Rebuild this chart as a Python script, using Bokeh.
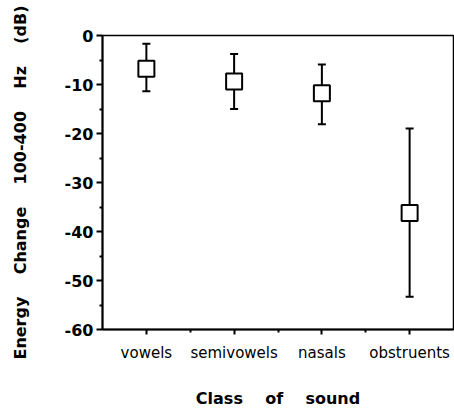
from bokeh.plotting import figure
from bokeh.models import ColumnDataSource, Whisker, TeeHead, FixedTicker
from bokeh.embed import file_html
from bokeh.resources import INLINE

categories = ["vowels", "semivowels", "nasals", "obstruents"]
means = [-6.8, -9.4, -11.8, -36.2]
upper = [-1.7, -3.8, -5.9, -19.0]
lower = [-11.4, -15.0, -18.1, -53.3]
y_ticks = [0, -10, -20, -30, -40, -50, -60]

xs = list(range(1, len(categories) + 1))
src = ColumnDataSource(dict(x=xs, m=means, up=upper, lo=lower))

FONT = "DejaVu Sans"

p = figure(width=454, height=410, output_backend="svg", toolbar_location=None,
           x_range=(0.5, 4.5), y_range=(-60, 0),
           min_border_left=102, min_border_top=35, min_border_bottom=81,
           min_border_right=1)
p.background_fill_color = "white"
p.border_fill_color = "white"
p.xgrid.visible = False
p.ygrid.visible = False
p.outline_line_color = "black"
p.outline_line_width = 1.5

w = Whisker(source=src, base="x", upper="up", lower="lo", line_color="black",
            line_width=2,
            upper_head=TeeHead(size=8, line_width=2, line_color="black"),
            lower_head=TeeHead(size=8, line_width=2, line_color="black"))
p.add_layout(w)
p.scatter("x", "m", source=src, marker="square", size=16, fill_color="white",
          line_color="black", line_width=2)

nb = "\u00a0" * 4
# x axis
p.xaxis.ticker = FixedTicker(ticks=xs, minor_ticks=[1.5, 2.5, 3.5])
p.xaxis.major_label_overrides = {x: c for x, c in zip(xs, categories)}
p.xaxis.axis_label = "Class" + nb + "of" + nb + "sound"
p.xaxis.axis_label_text_font = FONT
p.xaxis.axis_label_text_font_style = "bold"
p.xaxis.axis_label_text_font_size = "16px"
p.xaxis.axis_label_text_color = "black"
p.xaxis.axis_label_standoff = 24
p.xaxis.major_label_text_font = FONT
p.xaxis.major_label_text_font_size = "15px"
p.xaxis.major_label_text_color = "black"
p.xaxis.major_label_standoff = 9
p.xaxis.axis_line_width = 2
p.xaxis.major_tick_in = 0
p.xaxis.major_tick_out = 5
p.xaxis.major_tick_line_width = 2
p.xaxis.minor_tick_in = 0
p.xaxis.minor_tick_out = 3
p.xaxis.minor_tick_line_width = 2

# y axis
p.yaxis.ticker = FixedTicker(ticks=y_ticks, minor_ticks=[-5, -15, -25, -35, -45, -55])
p.yaxis.major_label_overrides = {t: str(t) for t in y_ticks}
p.yaxis.axis_label = "Energy" + nb + "Change" + nb + "100-400" + nb + "Hz" + nb + "(dB)"
p.yaxis.axis_label_text_font = FONT
p.yaxis.axis_label_text_font_style = "bold"
p.yaxis.axis_label_text_font_size = "16px"
p.yaxis.axis_label_text_color = "black"
p.yaxis.axis_label_standoff = 32
p.yaxis.major_label_text_font = FONT
p.yaxis.major_label_text_font_style = "bold"
p.yaxis.major_label_text_font_size = "16px"
p.yaxis.major_label_text_color = "black"
p.yaxis.major_label_standoff = 3
p.yaxis.axis_line_width = 2
p.yaxis.major_tick_in = 0
p.yaxis.major_tick_out = 6
p.yaxis.major_tick_line_width = 2
p.yaxis.minor_tick_in = 0
p.yaxis.minor_tick_out = 3
p.yaxis.minor_tick_line_width = 2

open("out.html", "w").write(file_html(p, INLINE))
